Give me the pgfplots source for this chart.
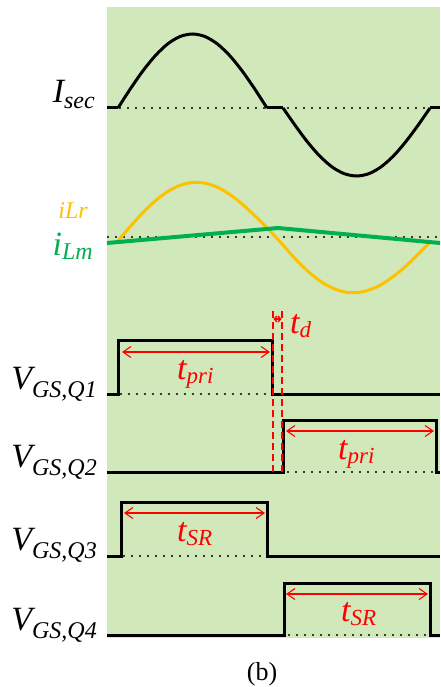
\documentclass[border=0pt]{standalone}
\usepackage{fontspec}
\setmainfont{Liberation Serif}
\usepackage{pgfplots}
\pgfplotsset{compat=1.18}
\usetikzlibrary{arrows.meta}

\definecolor{bggreen}{HTML}{D1E9BA}
\definecolor{lmgreen}{HTML}{00B050}
\definecolor{lrorange}{HTML}{FFC000}
\definecolor{tred}{HTML}{FF0000}

% signal names: large italic symbol with a lowered italic subscript
\newcommand{\sig}[3]{{\fontsize{34}{36}\selectfont\itshape #1}\raisebox{-#3}{\fontsize{24}{26}\selectfont\itshape #2}}
% timing names in red
\newcommand{\tm}[2]{{\fontsize{34}{36}\selectfont\itshape #1}\raisebox{-4pt}{\fontsize{23}{25}\selectfont\itshape #2}}

\tikzset{
  wave/.style={black, line width=3pt, line join=miter},
  zeroline/.style={black, line width=2.4pt, line cap=round, dash pattern=on 0pt off 8pt},
  span/.style={tred, line width=1.1pt, {Straight Barb[length=8pt,width=11pt]}-{Straight Barb[length=8pt,width=11pt]}},
  dead/.style={tred, line width=1.5pt, dash pattern=on 7pt off 4pt},
}

\begin{document}
\begin{tikzpicture}
\begin{axis}[
  width=440pt, height=687pt, scale only axis,
  xmin=0, xmax=440, ymin=0, ymax=687, y dir=reverse,
  hide axis, clip=false,
]
% shaded interval
\addplot[fill=bggreen, draw=none] coordinates {(107,7) (440,7) (440,638) (107,638)} --cycle;

% ---------- secondary current ----------
\addplot[zeroline] coordinates {(120,108) (432,108)};
\addplot[wave] coordinates {(107,108) (118,108)};
\addplot[wave, smooth] coordinates {
  (118,108) (130.4,88.8) (142.8,71) (155.3,55.7) (167.7,43.9) (180.1,36.5) (192.5,34)
  (204.9,36.5) (217.3,43.9) (229.8,55.7) (242.2,71) (254.6,88.8) (267,108)};
\addplot[wave] coordinates {(267,108) (283,108)};
\addplot[wave, smooth] coordinates {
  (283,108) (295.3,125.6) (307.5,142) (319.8,156.1) (332,166.9) (344.3,173.7) (356.5,176)
  (368.8,173.7) (381,166.9) (393.3,156.1) (405.5,142) (417.8,125.6) (430,108)};
\addplot[wave] coordinates {(430,108) (440,108)};

% ---------- resonant and magnetizing currents ----------
\addplot[zeroline] coordinates {(108,237) (440,237)};
\addplot[lrorange, line width=3pt, smooth] coordinates {
  (117,242.1) (129.6,227.3) (142.2,213.4) (154.75,201.3) (167.3,191.8) (179.9,185.4)
  (192.5,182.5) (205.1,183.2) (217.7,187.4) (230.25,194.7) (242.8,204.6) (255.4,216.3)
  (268,228.9) (281.5,243.3) (295,258.6) (308.5,271.8) (322,282.3) (335.5,289.3)
  (349,292.6) (362.5,291.8) (376,287.3) (389.5,279.3) (403,268.6) (416.5,255.8) (430,242.1)};
\addplot[lmgreen, line width=4pt] coordinates {(107,243) (278,228) (440,243)};

% ---------- gate signals ----------
\addplot[zeroline] coordinates {(121,394) (268,394)};
\addplot[wave] coordinates {(107,394) (118,394) (118,340) (272,340) (272,394) (440,394)};
\addplot[zeroline] coordinates {(288,472) (432,472)};
\addplot[wave] coordinates {(107,472) (283,472) (283,420) (436,420) (436,472) (440,472)};
\addplot[zeroline] coordinates {(124,556) (263,556)};
\addplot[wave] coordinates {(107,556) (121,556) (121,502) (267,502) (267,556) (440,556)};
\addplot[zeroline] coordinates {(289,635) (426,635)};
\addplot[wave] coordinates {(107,635) (284,635) (284,583) (430,583) (430,635) (440,635)};

% ---------- timing marks ----------
\addplot[dead] coordinates {(273,311) (273,474)};
\addplot[dead] coordinates {(282,311) (282,474)};
\addplot[tred, line width=1.4pt, {Straight Barb[length=2.5pt,width=6pt]}-{Straight Barb[length=2.5pt,width=6pt]}] coordinates {(273.5,319) (281.5,319)};
\addplot[span] coordinates {(122,352) (270,352)};
\addplot[span] coordinates {(286,431) (434,431)};
\addplot[span] coordinates {(124,513) (265,513)};
\addplot[span] coordinates {(286,594) (428,594)};

% ---------- labels ----------
\node[anchor=base east, inner sep=0pt] at (axis cs:95,103) {\sig{I}{sec}{5pt}};
\node[anchor=base east, inner sep=0pt, text=lrorange] at (axis cs:88,218) {\fontsize{24}{26}\selectfont\itshape iLr};
\node[anchor=base east, inner sep=0pt, text=lmgreen] at (axis cs:93,255) {\sig{i}{Lm}{4pt}};
\node[anchor=base east, inner sep=0pt] at (axis cs:97,389) {\sig{V}{GS,Q1}{8pt}};
\node[anchor=base east, inner sep=0pt] at (axis cs:97,467) {\sig{V}{GS,Q2}{8pt}};
\node[anchor=base east, inner sep=0pt] at (axis cs:97,550) {\sig{V}{GS,Q3}{8pt}};
\node[anchor=base east, inner sep=0pt] at (axis cs:97,630) {\sig{V}{GS,Q4}{8pt}};

\node[anchor=base west, inner sep=0pt, text=tred] at (axis cs:177,379) {\tm{t}{pri}};
\node[anchor=base west, inner sep=0pt, text=tred] at (axis cs:338,459) {\tm{t}{pri}};
\node[anchor=base west, inner sep=0pt, text=tred] at (axis cs:290,333) {\tm{t}{d}};
\node[anchor=base west, inner sep=0pt, text=tred] at (axis cs:177,541) {\tm{t}{SR}};
\node[anchor=base west, inner sep=0pt, text=tred] at (axis cs:341,621) {\tm{t}{SR}};

\node[anchor=base, inner sep=0pt] at (axis cs:262,680) {\fontsize{26}{28}\selectfont (b)};
\end{axis}
\pgfresetboundingbox
\path (current axis.south west) rectangle (current axis.north east);
\end{tikzpicture}
\end{document}
